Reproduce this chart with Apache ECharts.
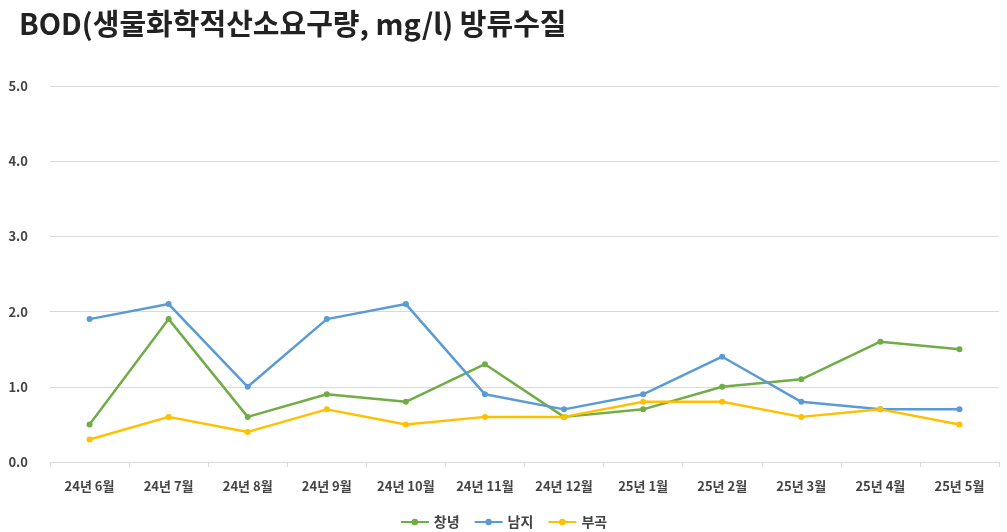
<!DOCTYPE html>
<html>
<head>
<meta charset="utf-8">
<script src="https://cdn.jsdelivr.net/npm/echarts@6/dist/echarts.min.js"></script>
<style>html,body{margin:0;padding:0;background:#fff}#main{width:1007px;height:532px}</style>
</head>
<body>
<div id="main"></div>
<script>
var months = ['24년 6월','24년 7월','24년 8월','24년 9월','24년 10월','24년 11월','24년 12월','25년 1월','25년 2월','25년 3월','25년 4월','25년 5월'];
var changnyeong = [0.5,1.9,0.6,0.9,0.8,1.3,0.6,0.7,1.0,1.1,1.6,1.5];
var namji = [1.9,2.1,1.0,1.9,2.1,0.9,0.7,0.9,1.4,0.8,0.7,0.7];
var bugok = [0.3,0.6,0.4,0.7,0.5,0.6,0.6,0.8,0.8,0.6,0.7,0.5];

var font = '"Noto Sans CJK KR", "Noto Sans", sans-serif';
function line(name, data, color) {
    return {
        name: name, type: 'line', data: data,
        symbol: 'circle', symbolSize: 6,
        lineStyle: {color: color, width: 2.5},
        itemStyle: {color: color}
    };
}
var chart = echarts.init(document.getElementById('main'));
chart.setOption({
    animation: false,
    textStyle: {fontFamily: font},
    title: {
        text: 'BOD(생물화학적산소요구량, mg/l) 방류수질',
        left: 14, top: 4,
        textStyle: {fontSize: 29, fontWeight: 'bold', color: '#222', fontFamily: font}
    },
    legend: {
        bottom: -2, itemGap: 14, itemWidth: 28, itemHeight: 8,
        textStyle: {fontSize: 14, color: '#444', fontWeight: 'bold'}
    },
    grid: {left: 50, right: 8, top: 86, bottom: 70},
    xAxis: {
        type: 'category', data: months, boundaryGap: true,
        axisLine: {lineStyle: {color: '#d9d9d9'}},
        axisTick: {show: true, lineStyle: {color: '#d9d9d9'}},
        axisLabel: {color: '#444', fontSize: 13, fontWeight: 'bold', margin: 18}
    },
    yAxis: {
        type: 'value', min: 0, max: 5, interval: 1,
        axisLabel: {color: '#444', fontSize: 13, fontWeight: 'bold', margin: 22,
            formatter: function (v) { return v.toFixed(1); }},
        splitLine: {lineStyle: {color: '#d9d9d9'}}
    },
    series: [
        line('창녕', changnyeong, '#70ad47'),
        line('남지', namji, '#5b9bd5'),
        line('부곡', bugok, '#ffc000')
    ]
});
</script>
</body>
</html>
